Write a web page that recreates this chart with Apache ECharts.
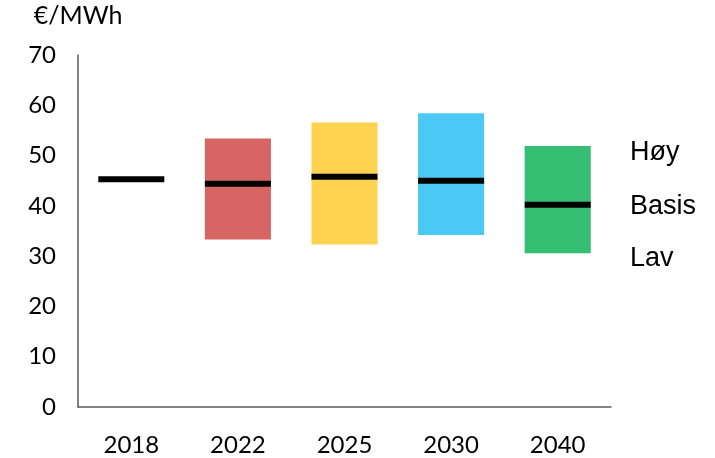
<!DOCTYPE html>
<html>
<head>
<meta charset="utf-8">
<script src="https://cdn.jsdelivr.net/npm/echarts@6/dist/echarts.min.js"></script>
<style>
  html, body { margin: 0; padding: 0; background: #fff; }
  #chart { width: 715px; height: 458px; }
</style>
</head>
<body>
<div id="chart"></div>
<script>
// år og prisintervall (€/MWh)
const years = ['2018', '2022', '2025', '2030', '2040'];
const lav   = [null, 33.3, 32.3, 34.2, 30.6];
const hoy   = [null, 53.4, 56.6, 58.4, 51.9];
const basis = [45.3, 44.4, 45.8, 45.0, 40.2];
const barColors = ['#ffffff', '#D76563', '#FFD24F', '#4BC8F3', '#35BF72'];
const yTicks = [0, 10, 20, 30, 40, 50, 60, 70];

const chart = echarts.init(document.getElementById('chart'));

const axisFont = { fontFamily: 'Lato', fontSize: 24, color: '#000' };

const option = {
    animation: false,
    grid: { left: 78, right: 104, top: 55, bottom: 51 },
    xAxis: {
        type: 'category',
        data: years,
        axisLine: { lineStyle: { color: '#595959', width: 1.5 } },
        axisTick: { show: false },
        axisLabel: Object.assign({ margin: 26 }, axisFont)
    },
    yAxis: {
        type: 'value',
        min: yTicks[0],
        max: yTicks[yTicks.length - 1],
        interval: 10,
        name: '€/MWh',
        nameGap: 27,
        nameTextStyle: { fontFamily: 'Lato', fontSize: 25, color: '#000' },
        splitLine: { show: false },
        axisLine: { show: true, lineStyle: { color: '#595959', width: 1.5 } },
        axisTick: { show: false },
        axisLabel: Object.assign({ margin: 22 }, axisFont)
    },
    series: [
        {
            type: 'bar',
            stack: 'range',
            barWidth: '62%',
            itemStyle: { color: 'transparent' },
            data: lav
        },
        {
            type: 'bar',
            stack: 'range',
            data: hoy.map((h, i) => ({
                value: h == null ? null : +(h - lav[i]).toFixed(2),
                itemStyle: { color: barColors[i] }
            }))
        },
        {
            type: 'scatter',
            symbol: 'rect',
            symbolSize: [66, 6],
            itemStyle: { color: '#000', opacity: 1 },
            z: 5,
            data: basis
        }
    ],
    graphic: [
        { type: 'text', left: 630, top: 139, style: { text: 'Høy', font: '27px "Liberation Sans"', fill: '#000' } },
        { type: 'text', left: 630, top: 193, style: { text: 'Basis', font: '27px "Liberation Sans"', fill: '#000' } },
        { type: 'text', left: 630, top: 245, style: { text: 'Lav', font: '27px "Liberation Sans"', fill: '#000' } }
    ]
};

chart.setOption(option);
</script>
</body>
</html>
